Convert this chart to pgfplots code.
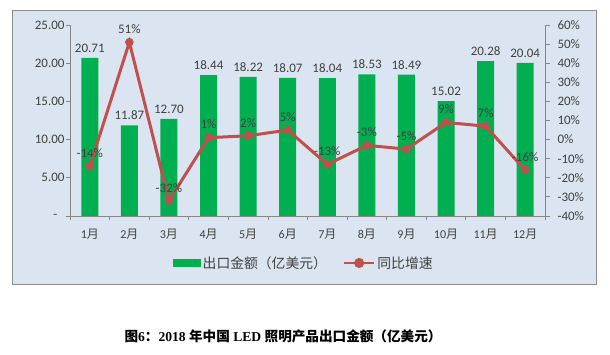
\documentclass[border=0pt]{standalone}
\usepackage{pgfplots}
\pgfplotsset{compat=1.18}
\usepackage{pgfplotstable}
\usepackage{fontspec}
\setmainfont{Carlito}
\newfontfamily\cjk{Noto Sans CJK SC}
\newfontfamily\tnr{Liberation Serif}
\definecolor{barg}{HTML}{00B050}
\definecolor{liner}{HTML}{C0504D}
\definecolor{bg}{HTML}{DBE5F1}
\definecolor{framec}{HTML}{8C8C8C}
\definecolor{axl}{HTML}{868686}
\definecolor{txt}{HTML}{404040}
\newcommand\yue{{\cjk 月}}
\pgfplotstableread{
m val g
1 20.71 -14
2 11.87 51
3 12.70 -32
4 18.44 1
5 18.22 2
6 18.07 5
7 18.04 -13
8 18.53 -3
9 18.49 -5
10 15.02 9
11 20.28 7
12 20.04 -16
}\data
\begin{document}
\begin{tikzpicture}
\path[use as bounding box] (-70pt,-139pt) rectangle (540pt,216pt);
\fill[bg] (-58pt,-68pt) rectangle (526pt,206pt);
\draw[framec, line width=0.9pt] (-58pt,-68pt) rectangle (526pt,206pt);
\begin{axis}[
  at={(0pt,0pt)}, anchor=south west,
  width=475pt, height=191pt, scale only axis,
  xmin=0.5, xmax=12.5, ymin=0, ymax=25,
  axis x line*=bottom, axis y line*=left,
  axis line style={axl, line width=0.8pt, -},
  xtick={1,...,12},
  xticklabels={1\yue,2\yue,3\yue,4\yue,5\yue,6\yue,7\yue,8\yue,9\yue,10\yue,11\yue,12\yue},
  major x tick style={draw=none},
  minor xtick={0.5,1.5,...,12.5},
  minor tick length=4pt,
  major tick length=4pt,
  tick align=outside,
  tick style={axl, line width=0.8pt},
  ytick={0,5,...,25},
  yticklabels={-\hspace*{7pt},5.00,10.00,15.00,20.00,25.00},
  ticklabel style={font=\fontsize{13}{15}\selectfont, text=txt},
  yticklabel style={xshift=2pt},
  xticklabel style={font=\fontsize{12}{14}\selectfont, yshift=-6pt},
  /pgf/number format/assume math mode=true,
]
\addplot[ybar, bar width=17pt, fill=barg, draw=none,
  nodes near coords,
  nodes near coords style={font=\fontsize{13}{15}\selectfont, text=txt, yshift=2pt,
    /pgf/number format/.cd, fixed, fixed zerofill, precision=2, assume math mode=true}]
  table[x=m, y=val]{\data};
\end{axis}
\begin{axis}[
  at={(0pt,0pt)}, anchor=south west,
  width=475pt, height=191pt, scale only axis,
  xmin=0.5, xmax=12.5, ymin=-40, ymax=60,
  axis x line=none, axis y line*=right,
  axis line style={axl, line width=0.8pt, -},
  ytick={-40,-30,...,60},
  yticklabels={-40\%,-30\%,-20\%,-10\%,0\%,10\%,20\%,30\%,40\%,50\%,60\%},
  tick align=outside, major tick length=5pt,
  tick style={axl, line width=0.8pt},
  ticklabel style={font=\fontsize{13}{15}\selectfont, text=txt},
  yticklabel style={xshift=4pt},
  /pgf/number format/assume math mode=true,
  legend style={at={(0.4926,-0.246)}, anchor=center, draw=none, fill=none,
    font=\cjk\fontsize{13.8}{15}\selectfont, text=txt,
    /tikz/every even column/.append style={column sep=14pt}},
  legend columns=2,
  legend cell align=left,
]
\addlegendimage{legend image code/.code={\fill[barg] (0pt,-3.5pt) rectangle (27pt,3.5pt);}}
\addlegendentry{出口金额（亿美元）}
\addplot[liner, line width=3pt, mark=*, mark size=4pt,
  mark options={fill=liner, draw=liner, line width=0.5pt},
  nodes near coords={\pgfmathprintnumber{\pgfplotspointmeta}\%},
  nodes near coords style={font=\fontsize{13}{15}\selectfont, text=txt, anchor=south, yshift=5pt},
  legend image code/.code={\draw[liner, line width=2.5pt] (0pt,0pt)--(30pt,0pt); \fill[liner] (15pt,0pt) circle (3.5pt);}]
  table[x=m, y=g]{\data};
\addlegendentry{同比增速}
\end{axis}
\node[font=\fontsize{13.6}{15}\selectfont\bfseries] at (213pt,-120pt)
  {{\cjk 图}{\tnr 6}{\cjk ：}{\tnr 2018 }{\cjk 年中国}{\tnr\ LED }{\cjk 照明产品出口金额（亿美元）}};
\end{tikzpicture}
\end{document}
